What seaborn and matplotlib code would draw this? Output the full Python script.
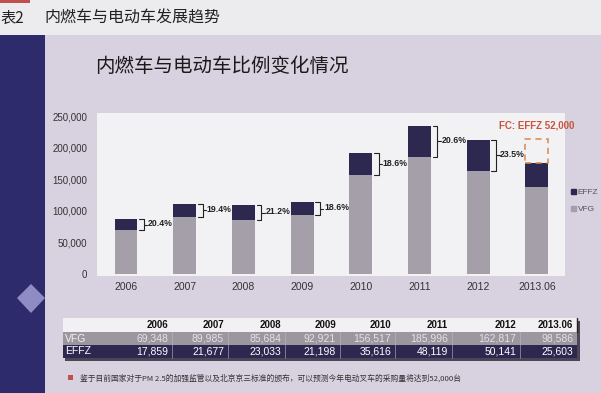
import matplotlib
matplotlib.use("Agg")
import matplotlib.pyplot as plt
import seaborn as sns
import pandas as pd
from matplotlib.patches import Rectangle, Polygon, Patch

# data
years = ["2006", "2007", "2008", "2009", "2010", "2011", "2012", "2013.06"]
vfg_table = [69348, 89985, 85684, 92921, 156517, 185996, 162817, 98586]
effz_table = [17859, 21677, 23033, 21198, 35616, 48119, 50141, 25603]
# bar heights as drawn (the 2013.06 bar is drawn larger than the table values)
vfg_bar = [69348, 89985, 85684, 92921, 156517, 185996, 162817, 138000]
effz_bar = [17859, 21677, 23033, 21198, 35616, 48119, 50141, 37500]
share_labels = ["20.4%", "19.4%", "21.2%", "18.6%", "18.6%", "20.6%", "23.5%"]
fc_top = 214000
fc_label = "FC: EFFZ 52,000"
y_ticks = [0, 50000, 100000, 150000, 200000, 250000]

NAVY = "#2c2850"
GRAY = "#a49fa8"
W, H = 601, 393

sns.set_theme(style="white")
plt.rcParams["font.family"] = ["Liberation Sans", "Noto Sans CJK SC", "DejaVu Sans"]
CJK = ["Noto Sans CJK SC", "DejaVu Sans"]

fig = plt.figure(figsize=(6.01, 3.93), dpi=100)
fig.patch.set_facecolor("#ecebee")


def fx(x):
    return x / W


def fy(y):
    return 1 - y / H


def frect(x0, y0, x1, y1, z=1, **kw):
    fig.add_artist(Rectangle((fx(x0), fy(y1)), fx(x1) - fx(x0), fy(y0) - fy(y1),
                             transform=fig.transFigure, zorder=z, **kw))


# page header
frect(0, 0, 30, 3, color="#c0504d", lw=0)
fig.text(fx(0), fy(18), "表2", fontsize=11, family=CJK, color="#222", va="center")
fig.text(fx(44), fy(18), "内燃车与电动车发展趋势", fontsize=11.5, family=CJK, color="#222", va="center")

# panel background
frect(0, 35, W, H, z=-10, color="#d7d1e0", lw=0)
frect(0, 35, 45, H, z=-9, color="#2d2b6c", lw=0)
fig.add_artist(Polygon([(fx(31), fy(284)), (fx(45), fy(298)), (fx(31), fy(313)), (fx(17), fy(298))],
                       closed=True, transform=fig.transFigure, color="#8f8bc4", lw=0, zorder=-8))

fig.text(fx(95), fy(66), "内燃车与电动车比例变化情况", fontsize=14, family=CJK,
         fontweight="medium", color="#1a1a1a", va="center")

# chart
ax = fig.add_axes([fx(97), fy(276), fx(565) - fx(97), fy(113) - fy(276)])
ax.set_facecolor("#f2f1f4")
df = pd.DataFrame({"year": years, "vfg": vfg_bar, "effz": effz_bar})
df["total"] = df["vfg"] + df["effz"]
bw = 0.39
sns.barplot(data=df, x="year", y="total", color=NAVY, width=bw, saturation=1, linewidth=0, ax=ax)
sns.barplot(data=df, x="year", y="vfg", color=GRAY, width=bw, saturation=1, linewidth=0, ax=ax)
ax.set_xlim(-0.494, 7.48)
ax.set_ylim(-3000, 255000)
ax.set_yticks(y_ticks)
ax.set_yticklabels([f"{v:,}" for v in y_ticks])
ax.tick_params(axis="y", length=0, pad=7, labelsize=7, labelcolor="#333")
ax.tick_params(axis="x", length=0, pad=4, labelsize=7.5, labelcolor="#333")
ax.set_xlabel("")
ax.set_ylabel("")
for s in ax.spines.values():
    s.set_visible(False)

# brackets with share labels
for i, lab in enumerate(share_labels):
    lo, hi = vfg_bar[i], vfg_bar[i] + effz_bar[i]
    xr = i + bw / 2
    x1, x2 = xr + 0.03, xr + 0.11
    ax.plot([x1, x2, x2, x1], [hi, hi, lo, lo], color="#222", lw=0.8)
    mid = (lo + hi) / 2
    ax.plot([x2, x2 + 0.06], [mid, mid], color="#222", lw=0.8)
    ax.text(x2 + 0.07, mid + 1500, lab, fontsize=6.3, fontweight="bold", color="#222", va="center", ha="left")

# forecast box on the last bar
i = len(years) - 1
top = vfg_bar[i] + effz_bar[i]
ax.add_patch(Rectangle((i - bw / 2, top), bw, fc_top - top, fill=False, ec="#d9894f",
                       lw=1.1, ls=(0, (4, 3))))
ax.text(i, fc_top + 22000, fc_label, fontsize=7, fontweight="bold", color="#c8553a", ha="center", va="center")

handles = [Patch(color=NAVY, label="EFFZ"), Patch(color=GRAY, label="VFG")]
ax.legend(handles=handles, loc="center left", bbox_to_anchor=(1.005, 0.46), frameon=False,
          fontsize=6, handlelength=0.6, handleheight=0.6, handletextpad=0.25,
          labelspacing=1.1, labelcolor="#555", borderpad=0.2, borderaxespad=0.2)

# data table
edges = [118, 172, 228, 285, 340, 395, 452, 520, 577]
frect(65, 321, 580, 361, color="#4a4658", lw=0)  # shadow
frect(63, 318, 577, 332, color="#f1f0f3", lw=0)
frect(63, 332, 577, 345, color="#9c969e", lw=0)
frect(63, 345, 577, 358, color=NAVY, lw=0)
fig.add_artist(plt.Line2D([fx(577), fx(577)], [fy(318), fy(332)], transform=fig.transFigure, color="#222", lw=1))
for e in edges[1:-1]:
    fig.add_artist(plt.Line2D([fx(e), fx(e)], [fy(332), fy(358)], transform=fig.transFigure,
                              color="#bdb8c0", lw=0.4))
fig.text(fx(65), fy(338.5), "VFG", fontsize=7.5, color="#f2f2f2", va="center")
fig.text(fx(65), fy(351.5), "EFFZ", fontsize=7.5, color="white", va="center")
for k, yr in enumerate(years):
    xr = fx(edges[k + 1] - 4)
    fig.text(xr, fy(325), yr, fontsize=7, fontweight="bold", color="#111", ha="right", va="center")
    fig.text(xr, fy(338.5), f"{vfg_table[k]:,}", fontsize=7.5, color="#e4e1e6", ha="right", va="center")
    fig.text(xr, fy(351.5), f"{effz_table[k]:,}", fontsize=7.5, color="white", ha="right", va="center")

# footnote
frect(68, 375, 73, 380, color="#c0504d", lw=0)
fig.text(fx(80), fy(378), "鉴于目前国家对于PM 2.5的加强监管以及北京京三标准的颁布，可以预测今年电动叉车的采购量将达到52,000台",
         fontsize=5.6, family=CJK, color="#333", va="center")

fig.savefig("out.png", dpi=100)
